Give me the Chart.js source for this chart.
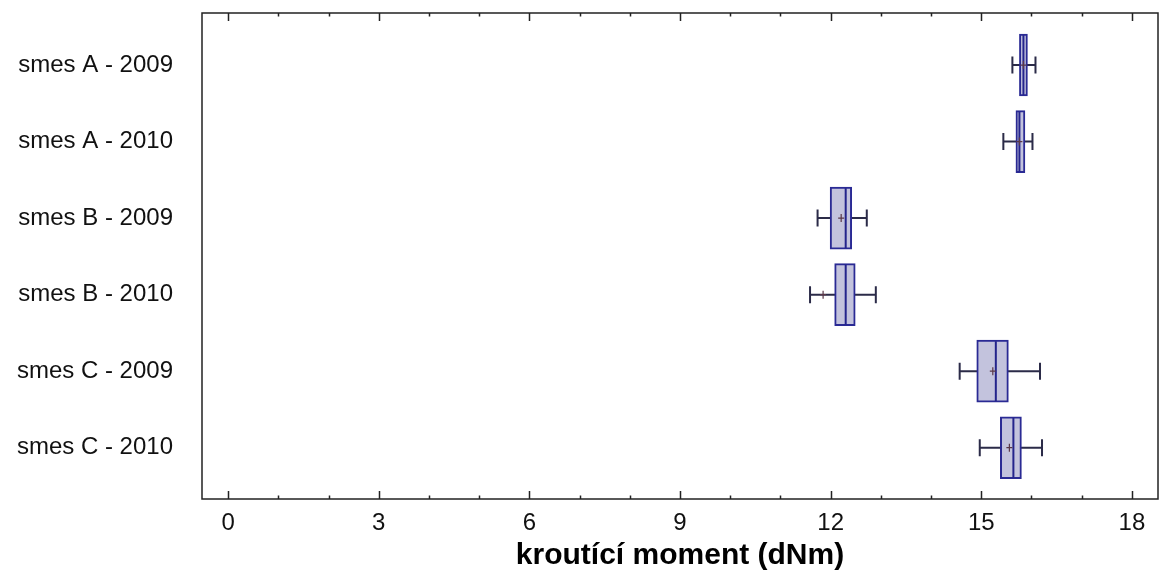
<!DOCTYPE html>
<html>
<head>
<meta charset="utf-8">
<script src="https://cdn.jsdelivr.net/npm/chart.js@4.4.1/dist/chart.umd.min.js"></script>
<style>
  html, body { margin: 0; padding: 0; background: #ffffff; }
  #wrap { width: 1160px; height: 578px; position: relative; }
</style>
</head>
<body>
<div id="wrap"><canvas id="c" width="1160" height="578"></canvas></div>
<script>
// ---- data ----
const categories = ["smes A - 2009", "smes A - 2010", "smes B - 2009", "smes B - 2010", "smes C - 2009", "smes C - 2010"];
const whiskerMin = [15.62, 15.44, 11.74, 11.59, 14.57, 14.97];
const q1Values   = [15.76, 15.69, 11.99, 12.08, 14.91, 15.38];
const medians    = [15.84, 15.76, 12.30, 12.30, 15.29, 15.64];
const q3Values   = [15.92, 15.87, 12.42, 12.49, 15.54, 15.80];
const whiskerMax = [16.08, 16.02, 12.72, 12.90, 16.17, 16.21];
const means      = [15.84, 15.76, 12.21, 11.85, 15.23, 15.56];
const xTickValues = [0, 3, 6, 9, 12, 15, 18];
const xTitle = "kroutící moment (dNm)";

const FONT = "'Liberation Sans', Arial, Helvetica, sans-serif";

const boxData = categories.map((c, i) => ({ y: i, x: [q1Values[i], q3Values[i]] }));

const boxPlugin = {
  id: 'boxExtras',
  beforeDatasetsDraw(chart) {
    const { ctx, scales: { x, y } } = chart;
    ctx.save();
    ctx.strokeStyle = '#2b2b48';
    ctx.lineWidth = 2;
    categories.forEach((c, i) => {
      const py = y.getPixelForValue(i);
      const a = x.getPixelForValue(whiskerMin[i]);
      const b = x.getPixelForValue(whiskerMax[i]);
      ctx.beginPath();
      ctx.moveTo(a, py); ctx.lineTo(b, py);
      ctx.moveTo(a, py - 8.5); ctx.lineTo(a, py + 8.5);
      ctx.moveTo(b, py - 8.5); ctx.lineTo(b, py + 8.5);
      ctx.stroke();
    });
    ctx.restore();
  },
  afterDatasetsDraw(chart) {
    const { ctx, scales: { x, y } } = chart;
    const half = 31;
    ctx.save();
    categories.forEach((c, i) => {
      const py = y.getPixelForValue(i);
      const m = x.getPixelForValue(medians[i]);
      ctx.strokeStyle = '#24248c';
      ctx.lineWidth = 2;
      ctx.beginPath();
      ctx.moveTo(m, py - half + 1); ctx.lineTo(m, py + half - 1);
      ctx.stroke();
      const mp = x.getPixelForValue(means[i]);
      ctx.strokeStyle = '#5a3848';
      ctx.lineWidth = 1.2;
      ctx.beginPath();
      ctx.moveTo(mp - 3, py); ctx.lineTo(mp + 3, py);
      ctx.moveTo(mp, py - 4); ctx.lineTo(mp, py + 4);
      ctx.stroke();
    });
    ctx.restore();
  },
  afterDraw(chart) {
    const { ctx, chartArea: ca, scales: { x } } = chart;
    ctx.save();
    ctx.strokeStyle = '#222222';
    ctx.lineWidth = 1.5;
    ctx.strokeRect(ca.left, ca.top, ca.right - ca.left, ca.bottom - ca.top);
    ctx.lineWidth = 1.5;
    ctx.beginPath();
    for (let v = 0; v <= 18; v += 1) {
      const px = Math.round(x.getPixelForValue(v)) + 0.5;
      const len = xTickValues.includes(v) ? 8 : 3.5;
      ctx.moveTo(px, ca.bottom); ctx.lineTo(px, ca.bottom - len);
      ctx.moveTo(px, ca.top); ctx.lineTo(px, ca.top + len);
    }
    ctx.stroke();
    ctx.restore();
  }
};

new Chart(document.getElementById('c'), {
  type: 'bar',
  data: {
    datasets: [{
      data: boxData,
      backgroundColor: '#c3c3dd',
      borderColor: '#2a2a94',
      borderWidth: 2,
      borderSkipped: false,
      barThickness: 62
    }]
  },
  options: {
    indexAxis: 'y',
    responsive: false,
    animation: false,
    devicePixelRatio: 1,
    layout: { padding: { top: 13, right: 2, left: 0, bottom: 0 } },
    plugins: { legend: { display: false }, tooltip: { enabled: false } },
    scales: {
      x: {
        type: 'linear',
        min: -0.52,
        max: 18.52,
        offset: false,
        grid: { display: false, drawTicks: false },
        border: { display: false },
        afterBuildTicks(scale) { scale.ticks = xTickValues.map(v => ({ value: v })); },
        afterFit(scale) { scale.height = 79; scale.paddingLeft = 0; scale.paddingRight = 0; },
        ticks: {
          color: '#111111',
          padding: 10,
          font: { family: FONT, size: 24 },
          callback: (v) => String(v)
        },
        title: {
          display: true,
          text: xTitle,
          color: '#000000',
          font: { family: FONT, size: 30, weight: 'bold' },
          padding: { top: 0, bottom: 4 }
        }
      },
      y: {
        type: 'linear',
        reverse: true,
        offset: false,
        min: -0.68,
        max: 5.67,
        grid: { display: false, drawTicks: false },
        border: { display: false },
        afterBuildTicks(scale) { scale.ticks = categories.map((c, i) => ({ value: i })); },
        afterFit(scale) { scale.width = 202; scale.paddingTop = 0; scale.paddingBottom = 0; },
        ticks: {
          color: '#111111',
          padding: 29,
          font: { family: FONT, size: 24 },
          callback: (v) => categories[v]
        }
      }
    }
  },
  plugins: [boxPlugin]
});
</script>
</body>
</html>
